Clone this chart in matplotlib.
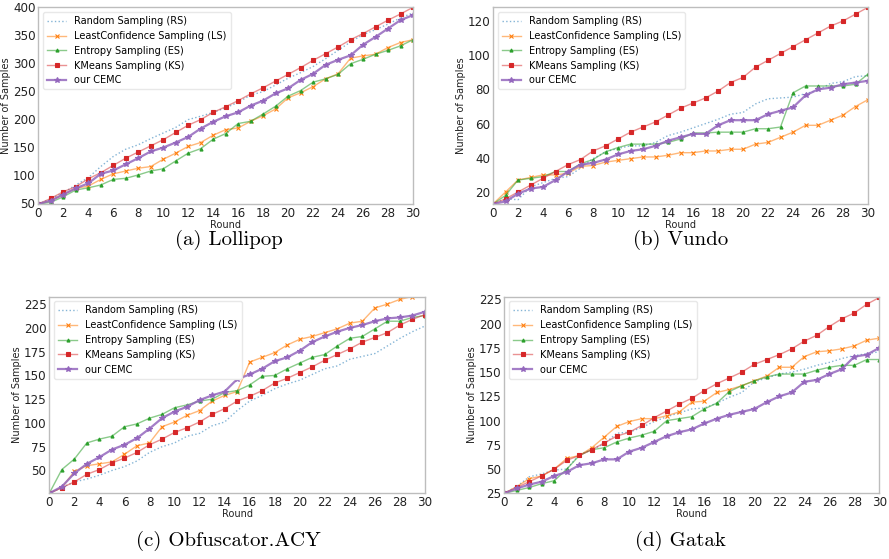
import numpy as np
import matplotlib
matplotlib.use("Agg")
from matplotlib import pyplot as plt
from matplotlib.colors import to_rgba

rounds = list(range(31))

# (a) Lollipop
lol_rs = [48, 57, 68, 82, 95, 115, 133, 146, 154, 165, 175, 185, 199, 205, 212, 220,
          230, 243, 249, 261, 273, 283, 294, 308, 323, 338, 351, 360, 370, 381, 390]
lol_ls = [48, 54, 65, 76, 80, 92, 102, 107, 112, 115, 128, 139, 151, 158, 171, 181,
          184, 196, 206, 218, 238, 247, 258, 272, 281, 309, 313, 316, 328, 337, 342]
lol_es = [48, 51, 61, 73, 77, 82, 92, 94, 100, 107, 111, 125, 139, 147, 164, 174,
          192, 196, 209, 223, 241, 251, 266, 272, 280, 299, 307, 316, 323, 331, 342]
lol_ks = [48, 58, 70, 79, 93, 104, 117, 130, 141, 152, 163, 176, 189, 199, 212, 222,
          233, 245, 256, 268, 280, 292, 305, 317, 329, 342, 353, 365, 377, 388, 400]
lol_cemc = [48, 54, 65, 76, 85, 102, 108, 119, 130, 142, 149, 158, 168, 183, 195, 205,
            212, 224, 233, 246, 255, 270, 281, 297, 306, 314, 333, 347, 362, 377, 386]

# (b) Vundo
vun_rs = [13, 16, 15.5, 23, 25.5, 28, 29, 34, 39.5, 43.5, 45.5, 47, 47, 49, 53, 55,
          57.5, 60, 62.5, 65.5, 66.5, 71.5, 74.5, 75, 75.5, 77.5, 79.5, 83.5, 84.5, 87.5, 88]
vun_ls = [13, 20, 27, 28.5, 30, 30, 31, 35, 35.5, 37.5, 38.5, 39.5, 40.5, 40.5, 41.5, 43,
          43, 44, 44, 45, 45, 48, 49, 52, 55, 59, 59, 62, 65, 70, 74]
vun_es = [13, 18, 27, 28, 29, 32, 32, 36.5, 39, 43.5, 46, 48, 48, 48, 49, 51,
          54.5, 54.5, 55, 55, 55, 57, 57, 58, 78, 82, 82, 82, 82, 83, 89]
vun_ks = [13, 16, 20, 24, 28, 32, 36, 39, 44, 47, 51, 55, 58, 61, 65, 69,
          72, 75, 79, 84, 87, 93, 97, 101, 105, 109, 113, 117, 120, 124, 128]
vun_cemc = [13, 14.5, 19, 22, 23, 27, 32, 36, 37, 39, 42, 44, 45, 47, 50, 52,
            54, 54, 59, 62, 62, 62, 65.5, 67.5, 69.5, 76.5, 80, 81, 83, 84, 85]

# (c) Obfuscator.ACY
obf_rs = [26, 32, 38, 41, 45, 50, 54, 60, 69, 75, 79, 86, 89, 97, 101, 113,
          123, 129, 136, 141, 145, 151, 157, 160, 167, 170, 173, 181, 189, 196, 202]
obf_ls = [26, 32, 49, 55, 57, 59, 67, 76, 79, 96, 101, 108, 113, 123, 129, 133,
          164, 169, 174, 182, 188, 191, 195, 199, 205, 207, 221, 225, 230, 233, 237]
obf_es = [26, 51, 62, 79, 83, 86, 96, 99, 105, 109, 116, 119, 123, 125, 132, 134,
          140, 149, 150, 157, 163, 169, 172, 181, 189, 191, 199, 207, 207, 211, 213]
obf_ks = [26, 32, 38, 46, 51, 58, 63, 69, 77, 83, 90, 95, 101, 109, 115, 123,
          128, 134, 142, 147, 153, 159, 166, 172, 178, 185, 190, 195, 203, 209, 214]
obf_cemc = [26, 33, 47, 57, 64, 72, 77, 84, 94, 105, 112, 117, 124, 129, 133, 146,
            151, 157, 165, 169, 176, 185, 191, 196, 200, 203, 207, 210, 211, 213, 217]

# (d) Gatak
gat_rs = [25, 32, 42, 45, 49, 50, 65, 70, 76, 87, 88, 93, 99, 104, 108, 112,
          113, 118, 124, 129, 140, 144, 148, 150, 153, 157, 160, 164, 167, 169, 171]
gat_ls = [25, 32, 40, 43, 50, 61, 64, 72, 83, 94, 99, 102, 102, 105, 109, 119,
          120, 129, 132, 136, 141, 146, 155, 155, 166, 171, 172, 174, 177, 183, 185]
gat_es = [25, 28, 31, 35, 38, 50, 64, 70, 72, 78, 82, 85, 89, 100, 102, 104,
          112, 118, 130, 136, 141, 145, 148, 148, 148, 152, 155, 157, 157, 163, 163]
gat_ks = [25, 31, 37, 43, 50, 59, 64, 70, 77, 84, 88, 95, 103, 110, 117, 123,
          131, 138, 144, 150, 158, 163, 168, 174, 182, 188, 197, 205, 211, 220, 227]
gat_cemc = [25, 30, 34, 37, 43, 47, 54, 56, 60, 60, 68, 72, 78, 84, 88, 91,
            97, 102, 106, 109, 112, 119, 125, 129, 140, 142, 148, 153, 166, 168, 175]

legend_names = ['Random Sampling (RS)', 'LeastConfidence Sampling (LS)',
                'Entropy Sampling (ES)', 'KMeans Sampling (KS)', 'our CEMC']

panels = [
    ('(a) Lollipop', [lol_rs, lol_ls, lol_es, lol_ks, lol_cemc], (48, 400), range(50, 401, 50)),
    ('(b) Vundo', [vun_rs, vun_ls, vun_es, vun_ks, vun_cemc], (13, 128), range(20, 121, 20)),
    ('(c) Obfuscator.ACY', [obf_rs, obf_ls, obf_es, obf_ks, obf_cemc], (26, 233), range(50, 226, 25)),
    ('(d) Gatak', [gat_rs, gat_ls, gat_es, gat_ks, gat_cemc], (25, 228), range(25, 226, 25)),
]

# axes boxes in pixels: left, top, right, bottom
boxes = [(38.3, 7.3, 413, 204), (493, 7.3, 868, 204),
         (49.3, 296.5, 425, 493.3), (504.3, 296.5, 879.3, 493.3)]
captions_xy = [(229, 240), (681, 240), (228, 541), (680, 541)]

styles = [
    dict(color='tab:blue', ls=':', marker=None, lw=1.0, ms=0, alpha=0.55),
    dict(color='tab:orange', ls='-', marker='x', lw=1.0, ms=2.5, alpha=0.55),
    dict(color='tab:green', ls='-', marker='^', lw=1.0, ms=2.2, alpha=0.55),
    dict(color='tab:red', ls='-', marker='s', lw=1.0, ms=2.6, alpha=0.5),
    dict(color='tab:purple', ls='-', marker='*', lw=1.6, ms=3.8, alpha=0.85),
]

TICK_FS = 8.6
LAB_FS = 7
W, H = 889, 559
fig = plt.figure(figsize=(W / 100, H / 100), dpi=100)

for (cap, series, ylim, yticks), (l, t, r, b), (cx, cy) in zip(panels, boxes, captions_xy):
    ax = fig.add_axes([l / W, 1 - b / H, (r - l) / W, (b - t) / H])
    for vals, name, st in zip(series, legend_names, styles):
        ax.plot(rounds, vals, linestyle=st['ls'], lw=st['lw'],
                color=to_rgba(st['color'], st['alpha']),
                marker=st['marker'], markersize=st['ms'],
                markerfacecolor=st['color'], markeredgecolor=st['color'],
                markeredgewidth=0.8, label=name)
    ax.set_xlim(0, 30)
    ax.set_ylim(*ylim)
    ax.set_xticks(range(0, 31, 2))
    ax.set_yticks(list(yticks))
    ax.tick_params(length=0, pad=2, labelsize=TICK_FS, colors='#222222')
    for sp in ax.spines.values():
        sp.set_color('#bdbdbd')
        sp.set_linewidth(1.0)
    ax.set_xlabel('Round', fontsize=LAB_FS, labelpad=0, color='#222222')
    ax.set_ylabel('Number of Samples', fontsize=LAB_FS, color='#222222')
    ax.yaxis.set_label_coords(-27 / (r - l), 0.5)
    ax.legend(loc='upper left', fontsize=LAB_FS, framealpha=1,
              edgecolor='#e8e8e8', fancybox=True)
    fig.text(cx / W, 1 - cy / H, cap, ha='center', va='center',
             fontsize=15, family=['cmr10', 'DejaVu Serif'])

fig.savefig('out.png', dpi=100)
